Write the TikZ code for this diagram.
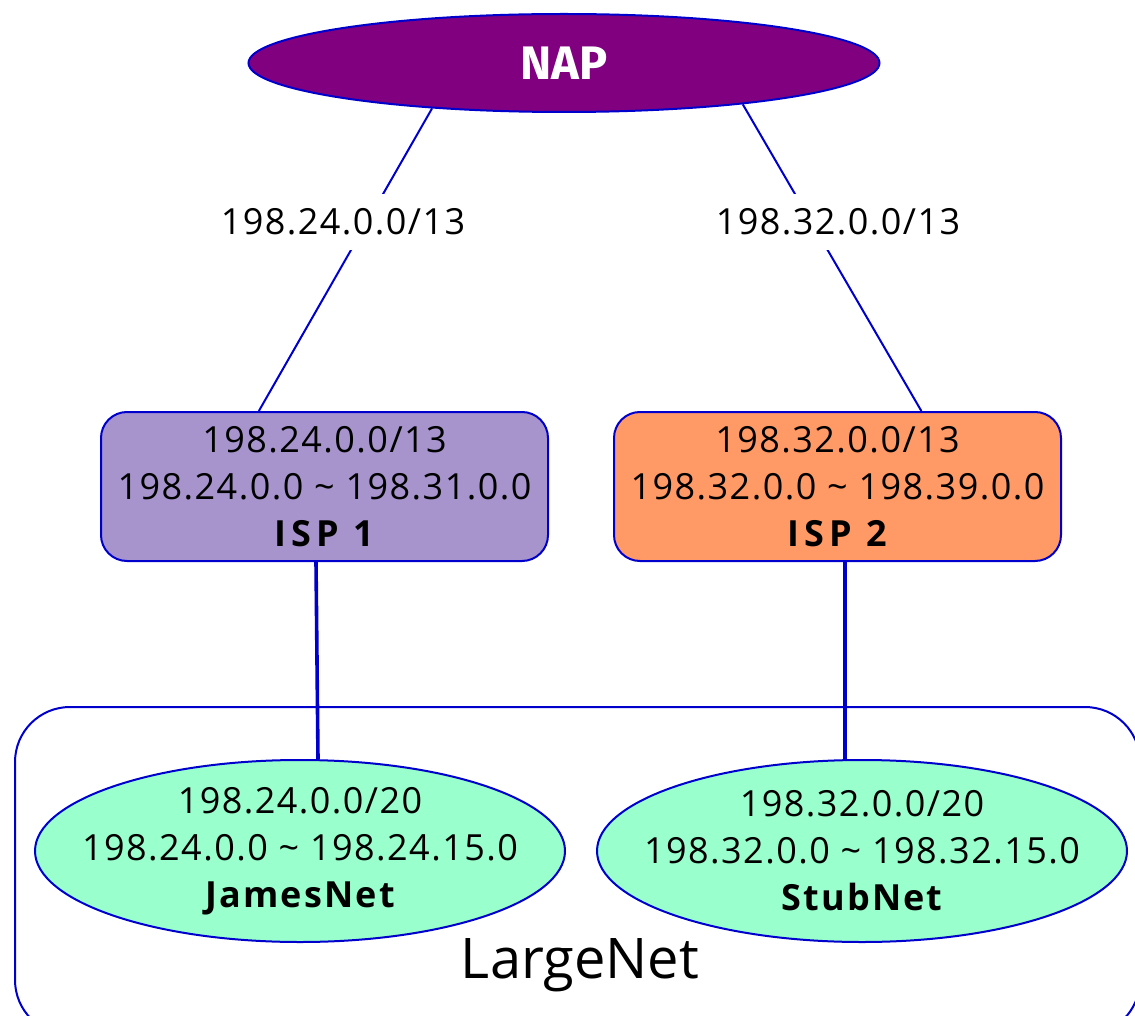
\documentclass[tikz,border=0pt]{standalone}
\usepackage{fontspec}
\setmainfont{Open Sans}
\newfontfamily\napfont{Fira Sans}
\usetikzlibrary{shapes.geometric,calc}
\definecolor{edgeblue}{HTML}{0000CC}
\definecolor{napfill}{HTML}{800080}
\definecolor{ispone}{HTML}{A794CC}
\definecolor{isptwo}{HTML}{FF9966}
\definecolor{netfill}{HTML}{99FFCC}
\newcommand{\numfont}{\fontsize{36}{47}\selectfont\addfontfeatures{LetterSpace=4}}
\tikzset{
  ispbox/.style={draw=edgeblue, line width=2pt, rounded corners=26pt, minimum width=447pt, minimum height=149pt, align=center, inner sep=0pt, font=\numfont},
  netell/.style={ellipse, draw=edgeblue, line width=2pt, fill=netfill, minimum width=530pt, minimum height=182pt, align=center, inner xsep=-40pt, inner ysep=-30pt, font=\numfont},
  link/.style={draw=edgeblue, line width=2pt},
  thicklink/.style={draw=edgeblue, line width=3.6pt},
  linklabel/.style={fill=white, inner xsep=2pt, inner ysep=15pt, font=\numfont}
}
\begin{document}
\begin{tikzpicture}[x=1pt,y=-1pt]
\useasboundingbox (0,0) rectangle (1135,1016);
\begin{scope}
\clip (0,0) rectangle (1135,1016);
\draw[edgeblue, line width=2pt, rounded corners=55pt] (15,707) rectangle (1140,1035);
\node[font=\fontsize{56}{60}\selectfont] (large) at (580,965) {LargeNet};

\node[ellipse, draw=edgeblue, line width=2pt, fill=napfill, minimum width=631pt, minimum height=98pt, text=white, font=\napfont\fontsize{47}{50}\selectfont\bfseries] (nap) at (564,63) {NAP};

\node[ispbox, fill=ispone] (isp1) at (324.5,486.5) {198.24.0.0/13\\198.24.0.0 \textasciitilde{} 198.31.0.0\\{\bfseries\addfontfeatures{LetterSpace=14}ISP 1}};
\node[ispbox, fill=isptwo] (isp2) at (837.5,486.5) {198.32.0.0/13\\198.32.0.0 \textasciitilde{} 198.39.0.0\\{\bfseries\addfontfeatures{LetterSpace=14}ISP 2}};

\node[netell] (james) at (300,851) {198.24.0.0/20\\198.24.0.0 \textasciitilde{} 198.24.15.0\\{\bfseries\addfontfeatures{LetterSpace=6}JamesNet}};
\node[netell] (stub) at (862,851) {198.32.0.0/20\\198.32.0.0 \textasciitilde{} 198.32.15.0\\{\bfseries\addfontfeatures{LetterSpace=6}StubNet}};

\draw[link] (nap.199) -- (isp1.131);
\draw[link] (nap.347) -- (isp2.42);
\node[linklabel] (lab1) at (343,222) {198.24.0.0/13};
\node[linklabel] (lab2) at (838,222) {198.32.0.0/13};

\draw[thicklink] ($(isp1.south)+(-8.5,0)$) -- ($(james.north)+(18,0)$);
\draw[thicklink] ($(isp2.south)+(7.5,0)$) -- ($(stub.north)+(-17,0)$);
\end{scope}
\end{tikzpicture}
\end{document}
